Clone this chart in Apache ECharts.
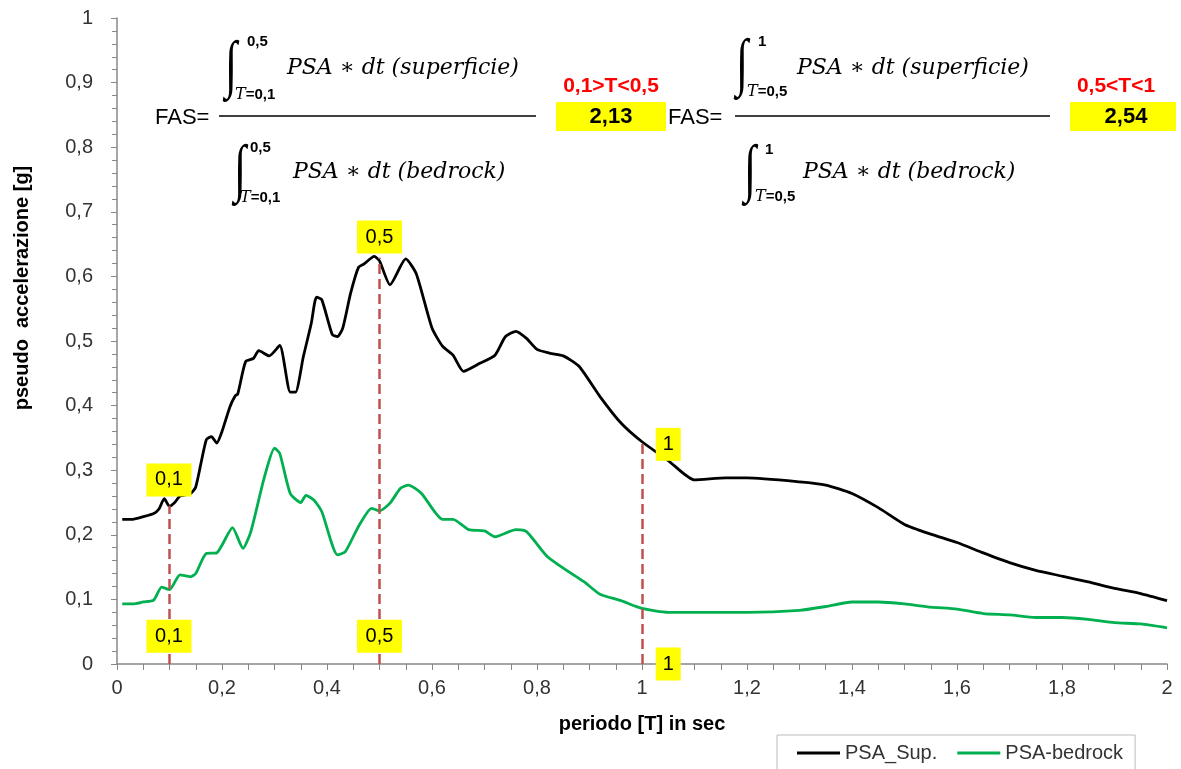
<!DOCTYPE html>
<html>
<head>
<meta charset="utf-8">
<script src="https://cdn.jsdelivr.net/npm/echarts@6/dist/echarts.min.js"></script>
<style>
  html, body { margin: 0; padding: 0; background: #fff; }
  #chart { width: 1181px; height: 769px; }
</style>
</head>
<body>
<div id="chart"></div>
<script>
// periodo T [s] e valori PSA [g]
var supT = [0.01, 0.03, 0.05, 0.07, 0.08, 0.09, 0.10, 0.11, 0.12, 0.14, 0.15, 0.17, 0.18, 0.19, 0.20, 0.215, 0.225, 0.23, 0.245, 0.26, 0.27, 0.29, 0.31, 0.33, 0.34, 0.355, 0.37, 0.38, 0.39, 0.41, 0.42, 0.43, 0.445, 0.46, 0.47, 0.49, 0.50, 0.52, 0.55, 0.57, 0.60, 0.62, 0.64, 0.66, 0.69, 0.72, 0.74, 0.76, 0.78, 0.80, 0.825, 0.85, 0.88, 0.92, 0.96, 1.00, 1.05, 1.10, 1.16, 1.20, 1.30, 1.35, 1.40, 1.45, 1.50, 1.55, 1.60, 1.65, 1.70, 1.75, 1.80, 1.85, 1.90, 1.95, 2.00];
var supPSA = [0.224, 0.224, 0.228, 0.233, 0.240, 0.256, 0.244, 0.250, 0.260, 0.264, 0.274, 0.347, 0.352, 0.342, 0.360, 0.398, 0.415, 0.418, 0.468, 0.473, 0.485, 0.477, 0.493, 0.421, 0.421, 0.476, 0.527, 0.568, 0.564, 0.510, 0.507, 0.520, 0.574, 0.614, 0.619, 0.631, 0.624, 0.587, 0.627, 0.604, 0.520, 0.492, 0.478, 0.453, 0.465, 0.478, 0.507, 0.515, 0.504, 0.487, 0.481, 0.477, 0.461, 0.414, 0.373, 0.344, 0.315, 0.285, 0.288, 0.288, 0.282, 0.277, 0.264, 0.242, 0.216, 0.201, 0.188, 0.172, 0.157, 0.145, 0.136, 0.127, 0.117, 0.109, 0.098];

var bedT = [0.01, 0.03, 0.05, 0.07, 0.085, 0.10, 0.12, 0.14, 0.15, 0.17, 0.19, 0.20, 0.22, 0.24, 0.255, 0.28, 0.30, 0.31, 0.33, 0.35, 0.36, 0.375, 0.39, 0.42, 0.435, 0.46, 0.485, 0.50, 0.52, 0.54, 0.555, 0.58, 0.62, 0.64, 0.67, 0.70, 0.72, 0.76, 0.78, 0.82, 0.86, 0.89, 0.92, 0.96, 1.00, 1.05, 1.20, 1.30, 1.35, 1.40, 1.45, 1.50, 1.55, 1.60, 1.65, 1.70, 1.75, 1.80, 1.85, 1.90, 1.95, 2.00];
var bedPSA = [0.093, 0.093, 0.096, 0.099, 0.119, 0.115, 0.138, 0.135, 0.140, 0.171, 0.172, 0.184, 0.211, 0.179, 0.205, 0.287, 0.334, 0.326, 0.264, 0.250, 0.261, 0.254, 0.236, 0.169, 0.174, 0.213, 0.241, 0.237, 0.249, 0.272, 0.277, 0.264, 0.224, 0.224, 0.208, 0.206, 0.197, 0.208, 0.205, 0.166, 0.143, 0.127, 0.108, 0.098, 0.086, 0.080, 0.080, 0.083, 0.089, 0.096, 0.096, 0.093, 0.088, 0.085, 0.078, 0.076, 0.072, 0.072, 0.069, 0.064, 0.062, 0.056];

// periodi di riferimento e relative etichette
var refT = [0.1, 0.5, 1];
var refLabels = ['0,1', '0,5', '1'];
var refTopPSA = [0.245, 0.629, 0.345];      // fine linea tratteggiata
var labelTopPos = [[0.099, 0.285], [0.5, 0.661], [1.05, 0.34]];
var labelBottomPos = [[0.099, 0.043], [0.5, 0.043], [1.05, 0.0]];

var fmt = function (v) { return String(+v.toFixed(1)).replace('.', ','); };
var zip = function (xs, ys) { return xs.map(function (x, i) { return [x, ys[i]]; }); };

var refLines = refT.map(function (t, i) {
    return [{ coord: [t, 0] }, { coord: [t, refTopPSA[i]] }];
});
var refBoxes = [];
refT.forEach(function (t, i) {
    var w = refLabels[i].length > 1 ? 45 : 25;
    [labelTopPos[i], labelBottomPos[i]].forEach(function (p) {
        refBoxes.push({ name: refLabels[i], coord: p, symbolSize: [w, 33] });
    });
});

var sans = 'Liberation Sans, Arial, sans-serif';
var serif = 'DejaVu Serif, serif';

function txt(text, x, y, font, opts) {
    opts = opts || {};
    var el = {
        type: 'text', x: x, y: y, z: 100,
        style: {
            text: text, font: font, fill: opts.fill || '#000',
            textAlign: opts.align || 'left', align: opts.align || 'left',
            textVerticalAlign: 'middle', verticalAlign: 'middle',
            rich: opts.rich
        }
    };
    if (opts.scaleY) { el.scaleY = opts.scaleY; el.scaleX = opts.scaleX || 1; }
    return el;
}
var limRich = { i: { fontStyle: 'italic', fontWeight: 'normal', fontFamily: serif, fontSize: 16 } };

function formula(o) {
    var intFont = '44px Liberation Serif, serif';
    var intOpt = { align: 'center', scaleY: 1.45, scaleX: 1 };
    var limFont = 'bold 15px ' + sans;
    return [
        txt('FAS=', o.fasX, 118, '22px ' + sans),
        { type: 'line', z: 100, shape: { x1: o.x1, y1: 116, x2: o.x2, y2: 116 }, style: { stroke: '#000', lineWidth: 1.5 } },
        txt('\u222B', o.intX, o.intY1, intFont, intOpt),
        txt(o.up, o.upX, o.upY1, limFont),
        txt('{i|T}=' + o.low, o.lowX, o.lowY1, limFont, { rich: limRich }),
        txt('PSA \u2217 dt (superficie)', o.txX, 68, 'italic 22px ' + serif),
        txt('\u222B', o.intX2, o.intY2, intFont, intOpt),
        txt(o.up, o.upX2, o.upY2, limFont),
        txt('{i|T}=' + o.low, o.lowX2, o.lowY2, limFont, { rich: limRich }),
        txt('PSA \u2217 dt (bedrock)', o.txX2, 172, 'italic 22px ' + serif),
        txt(o.range, o.rangeX, 86, 'bold 21px ' + sans, { fill: '#ff0000', align: 'center' }),
        { type: 'rect', z: 99, shape: { x: o.boxX, y: 102, width: o.boxW, height: 29 }, style: { fill: '#ffff00' } },
        txt(o.fas, o.fasValX, 117, 'bold 22px ' + sans, { align: 'center' })
    ];
}

var graphics = [].concat(
    formula({ fasX: 155, x1: 219, x2: 536, intX: 231, intY1: 68, up: '0,5', upX: 247, upY1: 42, low: '0,1', lowX: 235, lowY1: 95, txX: 287,
              intX2: 240, intY2: 172, upX2: 250, upY2: 148, lowX2: 240, lowY2: 198, txX2: 293,
              range: '0,1>T<0,5', rangeX: 611, boxX: 556, boxW: 110, fas: '2,13', fasValX: 611 }),
    formula({ fasX: 668, x1: 735, x2: 1050, intX: 742, intY1: 66, up: '1', upX: 758, upY1: 42, low: '0,5', lowX: 747, lowY1: 92, txX: 797,
              intX2: 750, intY2: 172, upX2: 765, upY2: 150, lowX2: 755, lowY2: 197, txX2: 803,
              range: '0,5<T<1', rangeX: 1116, boxX: 1070, boxW: 106, fas: '2,54', fasValX: 1126 }),
    [{ type: 'text', x: 22, y: 288, rotation: Math.PI / 2, z: 100,
       style: { text: 'pseudo  accelerazione [g]', font: 'bold 20px ' + sans, fill: '#000',
                textAlign: 'center', align: 'center', textVerticalAlign: 'middle', verticalAlign: 'middle' } }]
);

var chart = echarts.init(document.getElementById('chart'));
chart.setOption({
    animation: false,
    backgroundColor: '#fff',
    grid: { left: 117, right: 14, top: 18, bottom: 105 },
    legend: {
        data: ['PSA_Sup.', 'PSA-bedrock'],
        left: 777, top: 735,
        icon: 'rect', itemWidth: 43, itemHeight: 3, itemGap: 20,
        textStyle: { fontFamily: sans, fontSize: 20, color: '#333' },
        borderColor: '#bbb', borderWidth: 1, borderRadius: 0,
        padding: [8, 12, 20, 20]
    },
    xAxis: {
        type: 'value', min: 0, max: 2, interval: 0.2,
        name: 'periodo [T] in sec', nameLocation: 'middle', nameGap: 50,
        nameTextStyle: { fontFamily: sans, fontSize: 20, fontWeight: 'bold', color: '#000' },
        axisLine: { lineStyle: { color: '#888', width: 1.5 } },
        axisTick: { length: 6, lineStyle: { color: '#888' } },
        minorTick: { show: true, splitNumber: 4, length: 6, lineStyle: { color: '#888' } },
        splitLine: { show: false },
        axisLabel: { formatter: fmt, fontFamily: sans, fontSize: 20, color: '#333', margin: 14 }
    },
    yAxis: {
        type: 'value', min: 0, max: 1, interval: 0.1,
        axisLine: { show: true, lineStyle: { color: '#888', width: 1.5 } },
        axisTick: { show: true, length: 6, lineStyle: { color: '#888' } },
        minorTick: { show: true, splitNumber: 5, length: 5, lineStyle: { color: '#888' } },
        splitLine: { show: false },
        axisLabel: { formatter: fmt, fontFamily: sans, fontSize: 20, color: '#333', margin: 24 }
    },
    graphic: graphics,
    series: [
        {
            name: 'PSA-bedrock', type: 'line', data: zip(bedT, bedPSA),
            showSymbol: false, smooth: 0.2, color: '#00b050',
            lineStyle: { width: 2.8, color: '#00b050' }, z: 2
        },
        {
            name: 'PSA_Sup.', type: 'line', data: zip(supT, supPSA),
            showSymbol: false, smooth: 0.2, color: '#000',
            lineStyle: { width: 2.8, color: '#000' }, z: 3,
            markLine: {
                silent: true, symbol: 'none', label: { show: false },
                lineStyle: { color: '#c0504d', type: 'dashed', width: 2.5 },
                data: refLines
            },
            markPoint: {
                silent: true, symbol: 'rect',
                itemStyle: { color: '#ffff00' },
                label: { show: true, position: 'inside', formatter: '{b}', color: '#000', fontFamily: sans, fontSize: 20 },
                data: refBoxes
            }
        }
    ]
});
</script>
</body>
</html>
